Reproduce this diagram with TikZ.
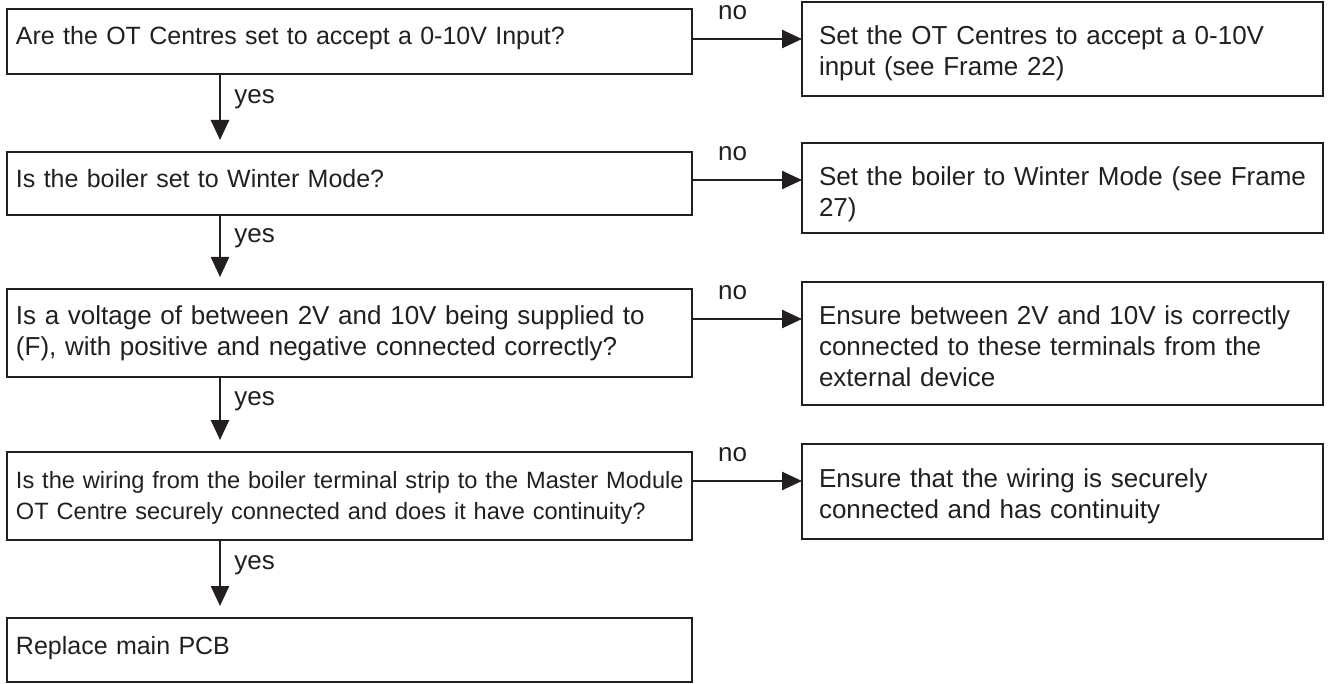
\documentclass[tikz,border=0pt]{standalone}
\usepackage{fontspec}
\setmainfont{Liberation Sans}
\definecolor{fcblack}{RGB}{35,31,32}
\usetikzlibrary{arrows.meta}

\begin{document}
\begin{tikzpicture}[x=0.5pt, y=-0.5pt,
  qbox/.style={draw=fcblack, line width=1.3pt, outer sep=0pt, anchor=north west,
    align=left, text width=333.5pt, inner xsep=4.5pt, inner ysep=0pt,
    text height=18pt, text=fcblack, font=\fontsize{12.5pt}{15.5pt}\selectfont},
  abox/.style={draw=fcblack, line width=1.3pt, outer sep=0pt, anchor=north west,
    align=left, text width=243.5pt, inner xsep=8.5pt, inner ysep=0pt,
    text height=21.5pt, text=fcblack, font=\fontsize{13pt}{15.5pt}\selectfont},
  flow/.style={draw=fcblack, line width=1.3pt, -{Triangle[length=10pt,width=9pt]}},
  yeslbl/.style={inner sep=0pt, right=6.5pt, text=fcblack, font=\fontsize{13pt}{15.5pt}\selectfont},
  nolbl/.style={inner sep=0pt, above=9pt, text=fcblack, font=\fontsize{13pt}{15.5pt}\selectfont}]

\useasboundingbox (0,0) rectangle (1328,684);

% --- Questions (left column) ---
\node[qbox, text depth=14.5pt] (q1) at (7,9) {Are the OT Centres set to accept a 0-10V Input?};
\node[qbox, text depth=13.5pt] (q2) at (7,152) {Is the boiler set to Winter Mode?};
\node[qbox, text depth=26pt, font=\fontsize{13pt}{15.5pt}\selectfont] (q3) at (7,289)
  {Is a voltage of between 2V and 10V being supplied to\\(F), with positive and negative connected correctly?};
\node[qbox, text depth=26pt, font=\fontsize{11.8pt}{15.5pt}\selectfont] (q4) at (7,452)
  {\mbox{Is the wiring from the boiler terminal strip to the Master Module}\\OT Centre securely connected and does it have continuity?};
\node[qbox, text depth=14pt] (q5) at (7,618) {Replace main PCB};

% --- Actions (right column) ---
\node[abox, text depth=25.5pt] (a1) at (802,2) {Set the OT Centres to accept a 0-10V\\input (see Frame 22)};
\node[abox, text depth=23.5pt] (a2) at (802,143) {Set the boiler to Winter Mode (see Frame\\27)};
\node[abox, text depth=40pt] (a3) at (802,282)
  {Ensure between 2V and 10V is correctly\\connected to these terminals from the\\external device};
\node[abox, text depth=26pt] (a4) at (802,444) {Ensure that the wiring is securely\\connected and has continuity};

% --- yes arrows ---
\draw[flow] ([xshift=106.5pt]q1.south west) -- node[yeslbl, pos=0.38] {yes} ([xshift=106.5pt, yshift=6pt]q2.north west);
\draw[flow] ([xshift=106.5pt]q2.south west) -- node[yeslbl, pos=0.38] {yes} ([xshift=106.5pt, yshift=6pt]q3.north west);
\draw[flow] ([xshift=106.5pt]q3.south west) -- node[yeslbl, pos=0.38] {yes} ([xshift=106.5pt, yshift=6pt]q4.north west);
\draw[flow] ([xshift=106.5pt]q4.south west) -- node[yeslbl, pos=0.38] {yes} ([xshift=106.5pt, yshift=6pt]q5.north west);

% --- no arrows ---
\foreach \i in {1,...,4} {
  \coordinate (n\i) at ([yshift=-18.5pt]a\i.north west);
  \draw[flow] (q\i.east |- n\i) -- node[nolbl, pos=0.37] {no} (n\i);
}

\end{tikzpicture}
\end{document}
